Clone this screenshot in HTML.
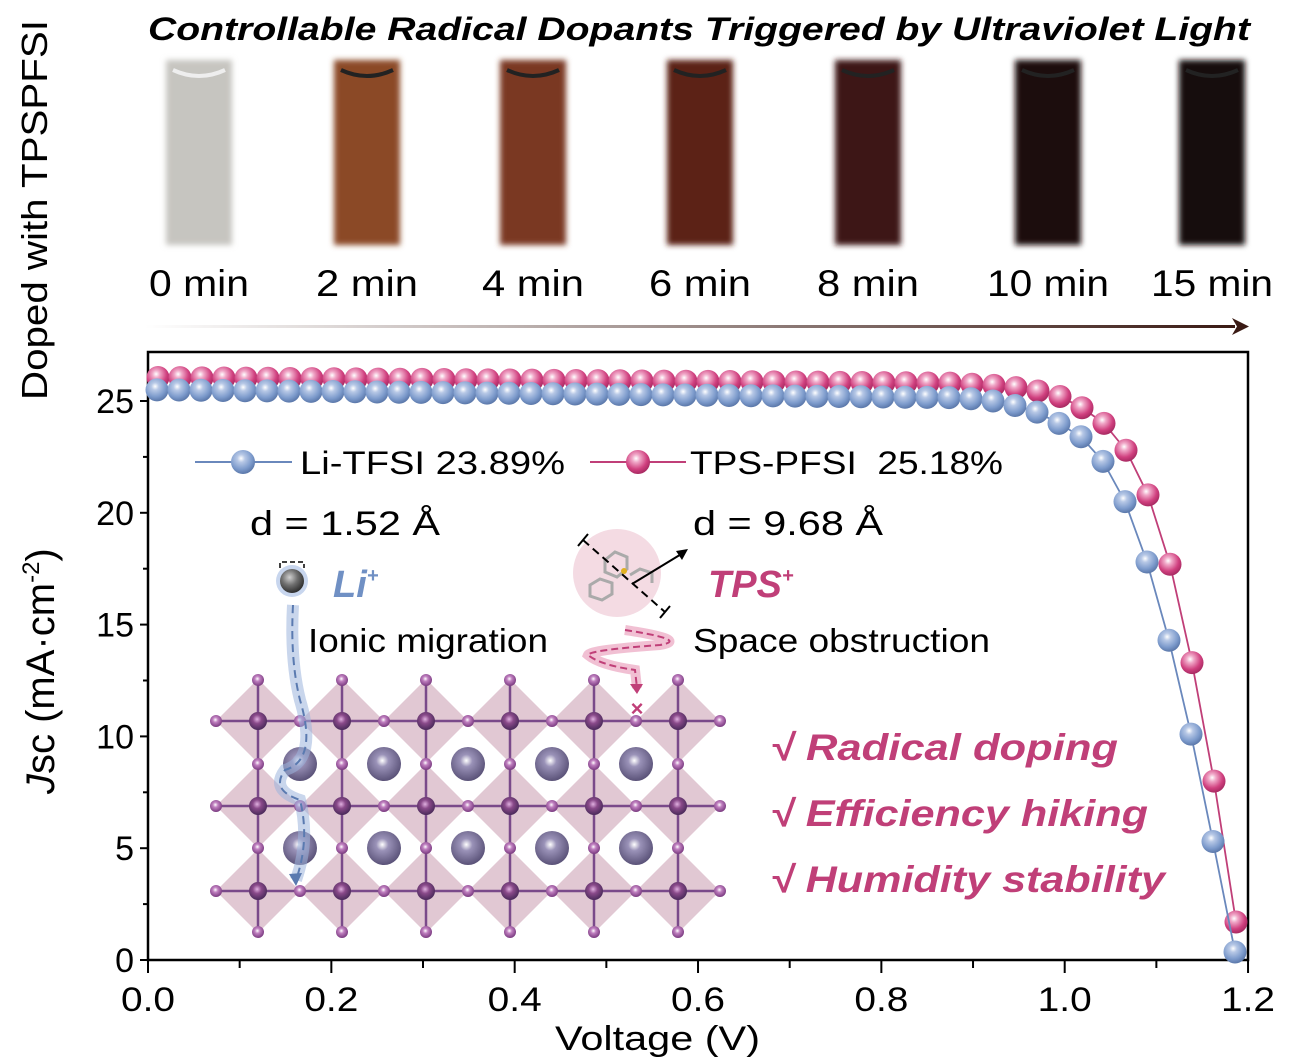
<!DOCTYPE html>
<html><head><meta charset="utf-8"><style>
html,body{margin:0;padding:0;background:#fff;}
svg{display:block;font-family:"Liberation Sans",Arial,sans-serif;}
</style></head><body>
<svg id="s" width="1298" height="1063" viewBox="0 0 1298 1063" xmlns="http://www.w3.org/2000/svg">
<defs>
<radialGradient id="gb" cx="0.42" cy="0.35" r="0.65"><stop offset="0" stop-color="#ffffff"/><stop offset="0.25" stop-color="#b7c8e6"/><stop offset="0.7" stop-color="#7d9bcc"/><stop offset="1" stop-color="#5b78aa"/></radialGradient>
<radialGradient id="gp" cx="0.42" cy="0.35" r="0.65"><stop offset="0" stop-color="#ffffff"/><stop offset="0.25" stop-color="#f0a8c8"/><stop offset="0.7" stop-color="#d0407f"/><stop offset="1" stop-color="#a82a62"/></radialGradient>
<radialGradient id="ga" cx="0.45" cy="0.4" r="0.6"><stop offset="0" stop-color="#ffffff"/><stop offset="0.3" stop-color="#9a92b8"/><stop offset="1" stop-color="#5a5278"/></radialGradient>
<radialGradient id="gs" cx="0.45" cy="0.4" r="0.6"><stop offset="0" stop-color="#ffffff"/><stop offset="0.35" stop-color="#c080c0"/><stop offset="1" stop-color="#7a3a80"/></radialGradient>
<radialGradient id="gB" cx="0.45" cy="0.4" r="0.6"><stop offset="0" stop-color="#e0b0e0"/><stop offset="0.4" stop-color="#8a4a8a"/><stop offset="1" stop-color="#4a2a5a"/></radialGradient>
<radialGradient id="gl" cx="0.4" cy="0.35" r="0.65"><stop offset="0" stop-color="#d0d0d0"/><stop offset="0.5" stop-color="#707070"/><stop offset="1" stop-color="#303030"/></radialGradient>
<linearGradient id="arr" x1="0" x2="1"><stop offset="0" stop-color="#fff"/><stop offset="1" stop-color="#3a1a14"/></linearGradient>
<filter id="blur"><feGaussianBlur stdDeviation="3"/></filter>
</defs>
<g id="g"></g>
</svg>
<script>
var g=document.getElementById('g');var h='';
function T(x,y,fs,len,txt,extra){return '<text x="'+x+'" y="'+y+'" font-size="'+fs+'" textLength="'+len+'" lengthAdjust="spacingAndGlyphs" '+(extra||'')+'>'+txt+'</text>';}
h+=T(148,40,32,1102,'Controllable Radical Dopants Triggered by Ultraviolet Light','font-weight="bold" font-style="italic"');
h+='<text transform="translate(47,400) rotate(-90)" font-size="36" textLength="380" lengthAdjust="spacingAndGlyphs">Doped with TPSPFSI</text>';
var vx=[199,367,533,700,868,1048,1212],vc=['#c6c5c0','#8b4a28','#7a3820','#5c2416','#3c1812','#1c0c0c','#170a0a'],lb=['0 min','2 min','4 min','6 min','8 min','10 min','15 min'];
var lw=[100,102,102,102,102,122,122];
for(var i=0;i<7;i++){h+='<rect x="'+(vx[i]-33)+'" y="60" width="66" height="185" fill="'+vc[i]+'" filter="url(#blur)"/>';
h+='<path d="M'+(vx[i]-26)+' 70 Q'+vx[i]+' 82 '+(vx[i]+26)+' 70" stroke="'+(i==0?'#eee':'#222')+'" stroke-width="4" fill="none"/>';
h+=T(vx[i]-lw[i]/2,296,37,lw[i],lb[i]);}
h+='<rect x="145" y="325" width="1090" height="3" fill="url(#arr)"/><path d="M1232 318 L1249 326.5 L1232 335 L1237 326.5Z" fill="#3a1a14"/>';
var X=function(v){return 148+v*916.7},Y=function(j){return 960-j*22.36};
h+='<rect x="148" y="352" width="1100" height="608" fill="none" stroke="#000" stroke-width="2.5"/>';
for(var k=0;k<=12;k++){var x=X(k*0.1);h+='<line x1="'+x+'" y1="960" x2="'+x+'" y2="'+(k%2?968:973)+'" stroke="#000" stroke-width="2"/>';if(k%2==0)h+=T(x-27,1011,34,54,(k/10).toFixed(1));}
for(var k=0;k<=5;k++){var y=Y(k*5);h+='<line x1="148" y1="'+y+'" x2="140" y2="'+y+'" stroke="#000" stroke-width="2"/><text x="134" y="'+(y+12)+'" font-size="34" text-anchor="end">'+k*5+'</text>';
if(k<5){var y2=Y(k*5+2.5);h+='<line x1="148" y1="'+y2+'" x2="143" y2="'+y2+'" stroke="#000" stroke-width="2"/>';}}
h+=T(555,1050,34,205,'Voltage (V)');
h+='<text transform="translate(54,794) rotate(-90)" font-size="40"><tspan font-style="italic">J</tspan>sc (mA·cm<tspan font-size="24" dy="-15">-2</tspan><tspan dy="15">)</tspan></text>';
var bx=[258,342,426,510,594,678],ry=[721,806,891],ay=[680,764,848,932];
bx.forEach(function(x){ry.forEach(function(y){h+='<path d="M'+x+' '+(y-42)+' L'+(x+42)+' '+y+' L'+x+' '+(y+42)+' L'+(x-42)+' '+y+'Z" fill="#c99aae" opacity="0.55"/>';});});
ry.forEach(function(y){h+='<line x1="216" y1="'+y+'" x2="720" y2="'+y+'" stroke="#7a4a8a" stroke-width="2.5"/>';});
bx.forEach(function(x){h+='<line x1="'+x+'" y1="680" x2="'+x+'" y2="932" stroke="#7a4a8a" stroke-width="2.5"/>';});
[300,384,468,552,636].forEach(function(x){[764,848].forEach(function(y){h+='<circle cx="'+x+'" cy="'+y+'" r="17" fill="url(#ga)"/>';});});
bx.forEach(function(x){ay.forEach(function(y){h+='<circle cx="'+x+'" cy="'+y+'" r="6" fill="url(#gs)"/>';});ry.forEach(function(y){h+='<circle cx="'+x+'" cy="'+y+'" r="9" fill="url(#gB)"/>';});});
[216,300,384,468,552,636,720].forEach(function(x){ry.forEach(function(y){h+='<circle cx="'+x+'" cy="'+y+'" r="6" fill="url(#gs)"/>';});});
h+='<path d="M293 605 Q290 660 300 700 Q318 760 285 770 Q270 790 300 800 Q310 840 296 880" stroke="#9cb4dc" stroke-width="12" fill="none" opacity="0.55"/>';
h+='<path d="M293 605 Q290 660 300 700 Q318 760 285 770 Q270 790 300 800 Q310 840 296 880" stroke="#5a7ab0" stroke-width="2" stroke-dasharray="8,5" fill="none"/><path d="M289 874 L296 886 L302 873Z" fill="#5a7ab0"/>';
h+='<circle cx="292" cy="581" r="16" fill="#c8d6ee"/><circle cx="292" cy="581" r="12" fill="url(#gl)"/>';
h+='<path d="M280 568 V562 H304 V568" stroke="#000" stroke-width="1.5" fill="none" stroke-dasharray="5,3"/>';
h+='<text x="333" y="597" font-size="38" font-weight="bold" font-style="italic" fill="#7090c4">Li<tspan font-size="20" dy="-15">+</tspan></text>';
h+='<circle cx="617" cy="573" r="44" fill="#f4dbe3"/>';
h+='<g stroke="#aaa" stroke-width="3" fill="none"><path d="M605 560 l10 -8 l12 5 l0 12 l-10 8 l-12 -5z"/><path d="M590 585 l10 -6 l12 4 l0 11 l-10 6 l-12 -4z"/><path d="M630 575 l10 -6 l12 4 l0 10"/></g><circle cx="624" cy="571" r="3" fill="#e0b020"/>';
h+='<path d="M583 540 L665 612" stroke="#000" stroke-width="2" stroke-dasharray="8,5"/><path d="M578 546 L588 534 M660 618 L670 606" stroke="#000" stroke-width="2"/>';
h+='<path d="M632 584 L683 553" stroke="#000" stroke-width="2"/><path d="M688 549 L676 551 L682 560Z" fill="#000"/>';
h+='<text x="708" y="597" font-size="38" font-weight="bold" font-style="italic" fill="#c03f78">TPS<tspan font-size="20" dy="-15">+</tspan></text>';
h+='<path d="M625 630 Q690 640 660 645 Q590 650 588 655 Q600 665 635 670 L637 688" stroke="#eeb0c8" stroke-width="10" fill="none" opacity="0.8"/>';
h+='<path d="M625 630 Q690 640 660 645 Q590 650 588 655 Q600 665 635 670 L637 688" stroke="#c03f78" stroke-width="2" stroke-dasharray="7,4" fill="none"/><path d="M630 684 L637 694 L643 684Z" fill="#c03f78"/>';
h+='<text x="637" y="716" font-size="22" font-weight="bold" fill="#c03f78" text-anchor="middle">×</text>';
h+=T(250,535,34,190,'d = 1.52 Å')+T(693,535,34,190,'d = 9.68 Å');
h+=T(308,652,33,240,'Ionic migration')+T(693,652,33,297,'Space obstruction');
var cw=[348,378,395];
['√ Radical doping','√ Efficiency hiking','√ Humidity stability'].forEach(function(t,i){h+=T(770,760+i*66,37,cw[i],t,'font-weight="bold" font-style="italic" fill="#c03f78"');});
var bt=[25.1,25.0,24.8,24.5,24.0,23.4,22.3,20.5,17.8,14.3,10.1,5.3,0.36];
var pt=[25.75,25.7,25.6,25.45,25.2,24.7,24.0,22.8,20.8,17.7,13.3,8.0,1.7];
function ser(tail,a,b,grad,col,dx){var pts=[];for(var i=0;i<50;i++){var j=i<37?a+(b-a)*i/36:tail[i-37];pts.push([157+dx+22*i,Y(j)]);}
var s='<polyline points="'+pts.map(function(p){return p.join(',')}).join(' ')+'" fill="none" stroke="'+col+'" stroke-width="1.8"/>';
pts.forEach(function(p){s+='<circle cx="'+p[0]+'" cy="'+p[1]+'" r="11.5" fill="url(#'+grad+')"/>';});return s;}
h+=ser(pt,26.05,25.8,'gp','#c03f78',1);
h+=ser(bt,25.5,25.15,'gb','#6a88bc',0);
h+='<line x1="195" y1="462" x2="292" y2="462" stroke="#6a88bc" stroke-width="2"/><circle cx="243" cy="462" r="12" fill="url(#gb)"/>'+T(300,474,32,265,'Li-TFSI 23.89%');
h+='<line x1="590" y1="462" x2="686" y2="462" stroke="#c03f78" stroke-width="2"/><circle cx="638" cy="462" r="12" fill="url(#gp)"/>'+T(690,474,32,313,'TPS-PFSI  25.18%','xml:space="preserve"');
g.innerHTML=h;
</script>
</body></html>
